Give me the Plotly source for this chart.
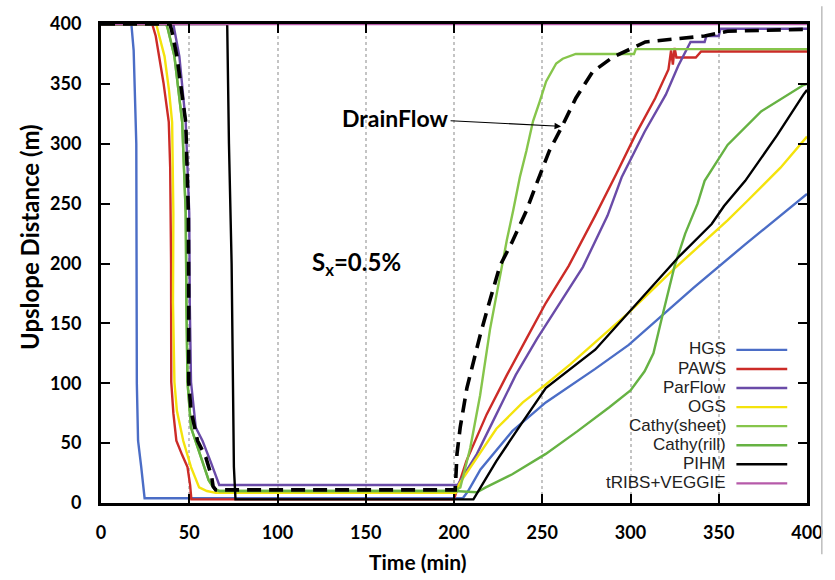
import plotly.graph_objects as go

# ---------------- data ----------------
hgs_t = [0, 17.2, 18.5, 20, 20.3, 21, 22.8, 24.7, 205, 208, 215, 233, 252, 280, 299, 336, 365, 393, 400]
hgs_d = [400, 400, 378, 300, 100, 52, 30, 4, 4, 10, 28, 60, 84, 112, 132, 180, 216, 250, 258]

paws_t = [0, 29, 31, 33, 35.4, 38.4, 39.2, 39.7, 39.8, 41, 42.7, 46, 49, 50.5, 51.2, 200, 207, 218.5,
          230, 241, 252, 265, 280, 292, 303, 314, 321.5, 323, 324, 325, 326, 327, 337, 340, 400]
paws_d = [400, 400, 390, 373, 351, 318, 280, 200, 101, 75, 52, 40, 30, 15, 3, 3, 35, 74,
          107, 137, 167, 198, 240, 275, 308, 338, 362, 378, 366, 380, 372, 372, 372, 377, 377]

parflow_t = [0, 41, 41.6, 44.4, 48, 50, 50.3, 51, 53.7, 57.5, 62, 65.9, 67, 202, 213, 224, 235, 247,
             260, 273, 287, 295, 308, 320, 327, 331, 334, 342, 343, 350, 351, 400]
parflow_d = [400, 400, 395, 373, 318, 242, 167, 101, 63, 52, 35, 19, 15, 15, 41, 74, 107, 137,
             167, 197, 240, 272, 310, 341, 365, 376, 385, 385, 390, 390, 396, 396]

ogs_t = [0, 31.3, 33, 36, 38.5, 40.3, 41, 40.8, 41.6, 43, 46.6, 51, 55.6, 60, 65, 201, 203, 213,
         224, 239, 252, 266, 280, 299, 325, 355, 366, 385, 400]
ogs_d = [400, 400, 390, 373, 345, 318, 242, 167, 101, 77, 52, 30, 13, 10, 8.5, 8.5, 16, 38,
         62, 84, 99, 116, 134, 159, 196, 236, 252, 280, 306]

cathy_sheet_t = [0, 37, 38, 41.6, 46, 48, 48.4, 49, 51, 56.5, 61, 64, 67, 200, 203.6, 209.2, 214.8,
                 220.4, 227, 230, 233.5, 237.3, 241, 244.8, 248.5, 252.2, 257.9, 261.6, 269, 302, 303, 400]
cathy_sheet_d = [400, 400, 395, 373, 318, 242, 167, 101, 63, 38, 19, 12, 10, 10, 13, 46, 90,
                 145, 198, 220, 244, 272, 294, 319, 335, 352, 367, 371, 375, 375, 379, 379]

cathy_rill_t = [0, 37, 38, 41.6, 46, 48, 48.4, 49, 51, 56.5, 61, 64, 67, 200, 213, 218, 233, 252,
                270, 288, 300, 308, 313, 318, 325, 331, 338, 342, 355, 374, 398, 400]
cathy_rill_d = [400, 400, 395, 373, 318, 242, 167, 101, 63, 38, 19, 12, 10, 10, 9, 13, 24, 41,
                60, 80, 94, 110, 125, 156, 198, 225, 250, 269, 299, 327, 349, 350]

pihm_t = [0, 71.5, 72.5, 74, 75.3, 76.2, 211, 224, 239, 252, 280, 299, 327, 346, 353, 365, 383, 398, 400]
pihm_d = [400, 400, 300, 200, 30, 3, 3, 35, 68, 96, 128, 159, 205, 233, 248, 269, 307, 341, 345]

tribs_t = [0, 400]
tribs_d = [400, 400]

drain_t = [0, 39, 40, 43, 48, 49.5, 49.7, 49.7, 51, 54.7, 59.4, 62.7, 63.5, 65, 200, 200.7, 201.7,
           203.5, 207.3, 211, 214.8, 219.5, 226, 232.6, 241, 246.6, 254, 260.7, 269, 278.5, 289.7,
           308.4, 327, 342, 355, 400]
drain_d = [400, 400, 395, 373, 318, 242, 167, 101, 77, 52, 38, 22, 14, 11, 11, 11, 41,
           63, 96, 118, 140, 165, 198, 217, 244, 266, 294, 313, 338, 360, 372,
           385, 387.4, 390, 394, 395.6]

names = ["HGS", "PAWS", "ParFlow", "OGS", "Cathy(sheet)", "Cathy(rill)", "PIHM", "tRIBS+VEGGIE"]
colors = ["#4b6dc6", "#cc2b27", "#6a4ba8", "#f4e30c", "#86c54b", "#66b243", "#000000", "#b65aa9"]
series_t = [hgs_t, paws_t, parflow_t, ogs_t, cathy_sheet_t, cathy_rill_t, pihm_t, tribs_t]
series_d = [hgs_d, paws_d, parflow_d, ogs_d, cathy_sheet_d, cathy_rill_d, pihm_d, tribs_d]

x_ticks = [0, 50, 100, 150, 200, 250, 300, 350, 400]
y_ticks = [0, 50, 100, 150, 200, 250, 300, 350, 400]

# ---------------- figure ----------------
fig = go.Figure()
for name, col, t, d in zip(names, colors, series_t, series_d):
    fig.add_trace(go.Scatter(x=t, y=d, mode="lines", name=name,
                             line=dict(color=col, width=2.4), showlegend=False))

fig.add_trace(go.Scatter(x=drain_t, y=drain_d, mode="lines", name="DrainFlow",
                         line=dict(color="black", width=3.6, dash="14px,8px"), showlegend=False))

tickfont = dict(family="Lato", size=18, color="black", weight="bold")
fig.update_xaxes(range=[0, 400], tickvals=x_ticks, ticks="inside", ticklen=9, tickwidth=1.5,
                 tickcolor="black", showline=True, linewidth=3, linecolor="black", mirror="ticks",
                 showgrid=True, gridcolor="#c4c4c4", griddash="dot", gridwidth=1.5,
                 zeroline=False, tickfont=tickfont, ticklabelstandoff=11)
fig.update_yaxes(range=[0, 400], tickvals=y_ticks, ticks="inside", ticklen=9, tickwidth=1.5,
                 tickcolor="black", showline=True, linewidth=3, linecolor="black", mirror="ticks",
                 showgrid=False, zeroline=False, tickfont=tickfont, ticklabelstandoff=13)

annotations = [
    # axis titles
    dict(x=0.449, y=-0.1216, xref="paper", yref="paper", xanchor="center", yanchor="middle",
         text="Time (min)", showarrow=False,
         font=dict(family="Lato", size=21, color="black", weight="bold")),
    dict(x=-0.101, y=0.5546, xref="paper", yref="paper", xanchor="center", yanchor="middle",
         text="Upslope Distance (m)", textangle=-90, showarrow=False,
         font=dict(family="Lato", size=24, color="black", weight="bold")),
    # in-plot labels
    dict(x=260.7, y=314.5, xref="x", yref="y", ax=166.9, ay=321.6, axref="x", ayref="y",
         text="DrainFlow", showarrow=True, arrowhead=2, arrowsize=1.2, arrowwidth=1.1,
         arrowcolor="black", font=dict(family="Lato", size=23, color="black", weight="bold")),
    dict(x=145, y=200.4, xref="x", yref="y", text="S<sub>x</sub>=0.5%", showarrow=False,
         font=dict(family="Lato", size=24, color="black", weight="bold")),
]
shapes = []
# manual legend: label to the left, line sample to the right
leg_top = 0.3216
leg_step = 0.0398
for i, (name, col) in enumerate(zip(names, colors)):
    yy = leg_top - i * leg_step
    annotations.append(dict(x=0.888, y=yy, xref="paper", yref="paper", xanchor="right",
                            yanchor="middle", text=name, showarrow=False,
                            font=dict(family="Liberation Sans", size=17, color="#222222")))
    shapes.append(dict(type="line", xref="paper", yref="paper", x0=0.900, x1=0.972,
                       y0=yy - 0.002, y1=yy - 0.002, line=dict(color=col, width=2.4)))
# faint border line at the right edge of the source picture
shapes.append(dict(type="line", xref="paper", yref="paper", x0=1.021, x1=1.021, y0=1.037, y1=-0.107,
                   line=dict(color="#bdbdbd", width=1.5)))

fig.update_layout(width=835, height=580, margin=dict(l=101, r=22, t=18, b=77),
                  paper_bgcolor="white", plot_bgcolor="white",
                  annotations=annotations, shapes=shapes, showlegend=False)

fig.write_html("out.html")
